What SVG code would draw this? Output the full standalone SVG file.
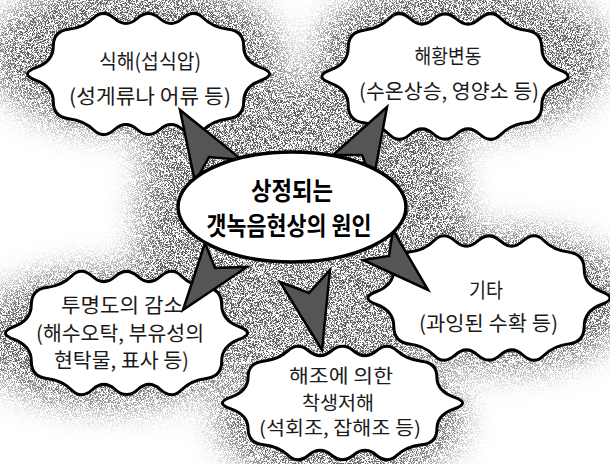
<svg xmlns="http://www.w3.org/2000/svg" xmlns:xlink="http://www.w3.org/1999/xlink" width="610" height="464" viewBox="0 0 610 464">
  <style>
    .cloud { fill: #ffffff; stroke: #000000; stroke-width: 3; stroke-linejoin: round; }
    .t { font-family: "Noto Sans CJK KR", "Noto Sans", sans-serif; font-size: 20.5px; fill: #1a1a1a; text-anchor: middle; }
    .ts { font-size: 19px; }
    .tc { font-family: "Noto Sans CJK KR", "Noto Sans", sans-serif; font-size: 25px; font-weight: 700; fill: #000000; text-anchor: middle; }
    .arrow { fill: #555555; stroke: #000000; stroke-width: 2.5; stroke-linejoin: miter; }
    .mass { fill: #000000; stroke: none; }
  </style>
  <defs>
    <path id="cloudShape" vector-effect="non-scaling-stroke" d="M94.5 5.7 Q109 0 94.5 -5.7 T80 -25 T67.05 -40.25 T46.05 -50.45 T28.5 -50 T9.5 -50 T-9.5 -50 T-28.5 -50 T-46.05 -50.45 T-67.05 -40.25 T-80 -25 T-94.5 -5.7 T-94.5 5.7 T-80 25 T-67.05 40.25 T-46.05 50.45 T-28.5 50 T-9.5 50 T9.5 50 T28.5 50 T46.05 50.45 T67.05 40.25 T80 25 T94.5 5.7 Z"/>
    <filter id="stipple" filterUnits="userSpaceOnUse" x="0" y="0" width="610" height="464" color-interpolation-filters="sRGB">
      <feGaussianBlur in="SourceAlpha" stdDeviation="16" result="b"/>
      <feTurbulence type="fractalNoise" baseFrequency="1.4" numOctaves="1" seed="4" result="n"/>
      <feColorMatrix in="n" type="matrix" values="0 0 0 0 0  0 0 0 0 0  0 0 0 0 0  0 0 0 10 -4.6" result="dots"/>
      <feComposite in="b" in2="dots" operator="arithmetic" k1="0.72" k2="0" k3="0" k4="0" result="d"/>
      <feColorMatrix in="d" type="matrix" values="0 0 0 0 0.1  0 0 0 0 0.1  0 0 0 0 0.1  0 0 0 1 0"/>
    </filter>
  </defs>

  <rect x="0" y="0" width="610" height="464" fill="#ffffff"/>

  <g id="background-texture" filter="url(#stipple)">
    <ellipse class="mass" cx="135" cy="56" rx="148" ry="78"/>
    <ellipse class="mass" cx="462" cy="56" rx="148" ry="78"/>
    <ellipse class="mass" cx="110" cy="338" rx="138" ry="70"/>
    <ellipse class="mass" cx="505" cy="300" rx="128" ry="70"/>
    <ellipse class="mass" cx="340" cy="418" rx="125" ry="68"/>
    <polygon class="mass" points="150,80 445,80 480,290 345,400 130,330"/>
    <ellipse class="mass" cx="292" cy="207" rx="130" ry="72"/>
  </g>

  <g id="node-feeding">
    <use class="cloud" href="#cloudShape" xlink:href="#cloudShape" transform="translate(148.5,74) scale(1.19,1.11)"/>
    <text class="t" x="150" y="68.5" textLength="102" lengthAdjust="spacingAndGlyphs">식해(섭식압)</text>
    <text class="t" x="150" y="103.5" textLength="162" lengthAdjust="spacingAndGlyphs">(성게류나 어류 등)</text>
  </g>

  <g id="node-ocean">
    <use class="cloud" href="#cloudShape" xlink:href="#cloudShape" transform="translate(445,76.5) scale(1.21,1.15)"/>
    <text class="t" x="448" y="63.5" textLength="67" lengthAdjust="spacingAndGlyphs">해황변동</text>
    <text class="t" x="449" y="98.5" textLength="180" lengthAdjust="spacingAndGlyphs">(수온상승, 영양소 등)</text>
  </g>

  <g id="node-turbidity">
    <use class="cloud" href="#cloudShape" xlink:href="#cloudShape" transform="translate(126.5,333) scale(1.19,1.13)"/>
    <text class="t" x="122" y="312.5" textLength="122" lengthAdjust="spacingAndGlyphs">투명도의 감소</text>
    <text class="t" x="120" y="340.5" textLength="168" lengthAdjust="spacingAndGlyphs">(해수오탁, 부유성의</text>
    <text class="t" x="121.5" y="368" textLength="135" lengthAdjust="spacingAndGlyphs">현탁물, 표사 등)</text>
  </g>

  <g id="node-other">
    <use class="cloud" href="#cloudShape" xlink:href="#cloudShape" transform="translate(489,298) scale(1.19,1.14)"/>
    <text class="t" x="486" y="297.5" textLength="34" lengthAdjust="spacingAndGlyphs">기타</text>
    <text class="t" x="488.5" y="330.5" textLength="139" lengthAdjust="spacingAndGlyphs">(과잉된 수확 등)</text>
  </g>

  <g id="node-algae">
    <use class="cloud" href="#cloudShape" xlink:href="#cloudShape" transform="translate(342.5,403) scale(1.18,1.04)"/>
    <text class="t ts" x="341" y="383" textLength="104" lengthAdjust="spacingAndGlyphs">해조에 의한</text>
    <text class="t ts" x="338" y="410" textLength="72" lengthAdjust="spacingAndGlyphs">착생저해</text>
    <text class="t ts" x="340" y="435" textLength="162" lengthAdjust="spacingAndGlyphs">(석회조, 잡해조 등)</text>
  </g>

  <g id="connectors">
    <polygon class="arrow" points="180,110 195,182 209,157 242,160"/>
    <polygon class="arrow" points="387,107 333,155 362,155 373,182"/>
    <polygon class="arrow" points="183,310 205,243 215,268 247,267"/>
    <polygon class="arrow" points="322,350 280,282 309,293 330,270"/>
    <polygon class="arrow" points="428,290 393,230 389,256 363,260"/>
  </g>

  <g id="node-center">
    <ellipse cx="292" cy="207" rx="114" ry="55" fill="#ffffff" stroke="#000000" stroke-width="3.5"/>
    <text class="tc" x="292" y="200" textLength="82" lengthAdjust="spacingAndGlyphs">상정되는</text>
    <text class="tc" x="289" y="235" textLength="165" lengthAdjust="spacingAndGlyphs">갯녹음현상의 원인</text>
  </g>
</svg>
